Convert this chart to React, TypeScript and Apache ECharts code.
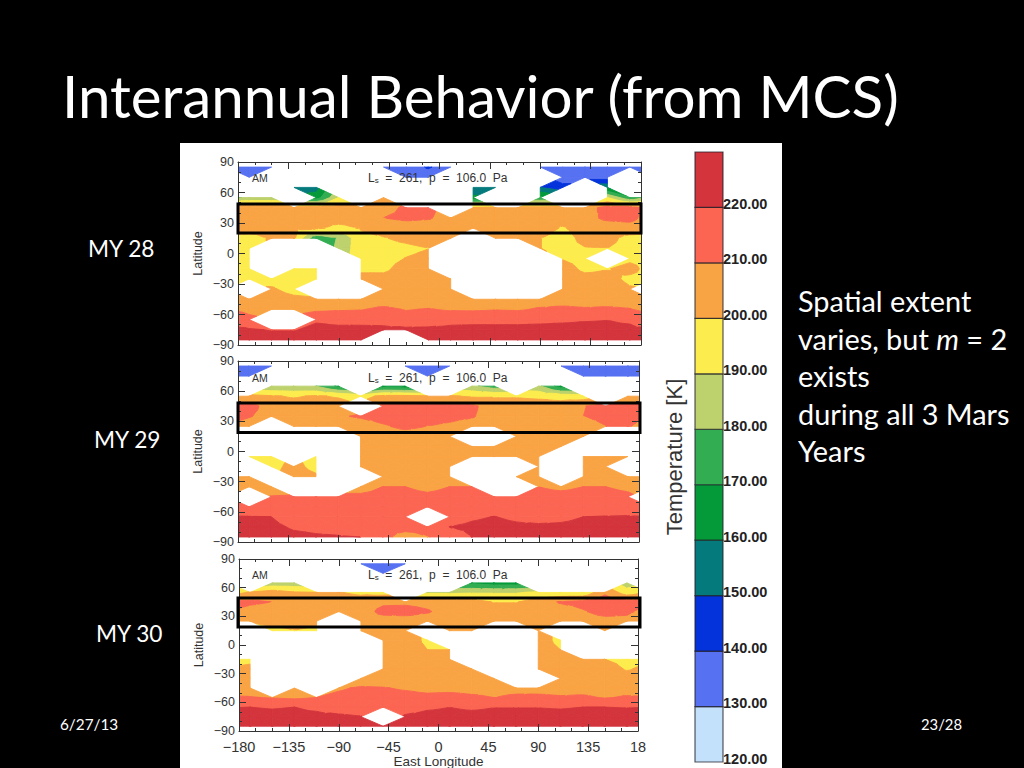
import React, { useEffect, useRef } from "react";
import * as echarts from "echarts";

const _ = null;

const titleText = "Interannual Behavior (from MCS)";
const yearLabels = ["MY 28", "MY 29", "MY 30"];
const sideLines = ["Spatial extent", "varies, but {i|m} = 2", "exists", "during all 3 Mars", "Years"];
const dateText = "6/27/13";
const pageText = "23/28";

const lons = [-170, -150, -130, -110, -90, -70, -50, -30, -10, 10, 30, 50, 70, 90, 110, 130, 150, 170];
const lats = [85, 75, 65, 55, 45, 35, 25, 15, 5, -5, -15, -25, -35, -45, -55, -65, -75, -85];

const levels = [120, 130, 140, 150, 160, 170, 180, 190, 200, 210, 220, 230];
const levelColors = ["#c3e1fa", "#5671f1", "#0433dc", "#047a7c", "#049a39", "#33ad52", "#bdd16c", "#fdec4d", "#f9a444", "#fb6552", "#d4343c"];

const my28 = [
  [135, 135, _, _, _, _, 135, 135, 141, 135, _, _, _, 135, 135, 135, 135, 135],
  [135, _, _, _, _, _, _, 135, 135, _, _, _, _, _, 135, 135, 135, _],
  [_, _, 153, 156, _, _, _, _, _, _, 153, 153, _, 150, 143, _, 158, _],
  [184, 184, _, 165, 190, _, 201, _, _, _, 162, _, _, 172, _, _, 190, 172],
  [205, 205, 204, 205, 205, 204, 206, 212, 212, _, 201, 203, 203, 203, 204, 205, 214, 214],
  [205, 205, 205, 205, 205, 205, 210, 212, 211, 206, 205, 205, 205, 205, 205, 207, 212, 213],
  [204, 203, 203, 202, 197, 201, 204, 205, 205, 205, 205, 205, 205, 205, 199, 205, 205, 206],
  [197, 201, 201, 172, 181, 197, 199.5, 202, 204, 204, _, 203, 203, 200.2, 196, 203, 203, 197],
  [197, _, _, _, 182, 197, 197, 198, 199.9, _, _, _, _, 200.2, 197, 199.5, 200, 197],
  [197, _, _, _, _, 198, 197, 200.3, 202, _, _, _, _, _, 199.5, 197, _, 198],
  [196, _, 196, 196, _, 198, 198, 204, 204, _, _, _, _, _, 204, 198, 199.5, 203],
  [197, 197, 196, 196, _, 203, 203, 205, 205, 205, _, _, _, _, 205, 203, 203, 198],
  [_, 201, 197, _, _, _, 205, 205, 205, 205, _, _, _, _, 205, 205, 205, 201],
  [204, 204, 202, 201, 205, 205, 205, 205, 206, 206, 206, 206, 206, 206, 206, 206, 206, 206],
  [207, 204, 204, 208, 209, 209.5, 212, 209.5, 210.5, 209, 208.7, 209.5, 209, 211, 212, 211, 211.5, 210.5],
  [213, _, _, 219, 217.5, 217.5, 217, 214, 215, 217.5, 218, 218, 218, 218.5, 219, 219.5, 219.8, 218.5],
  [221, 219.5, 219.5, 222, 222, 222, 222, 222, 222, 222, 222, 222, 222, 222, 222, 222, 222, 222],
  [224, 224, 224, 224, 224, 224, _, _, 224, 224, 224, 224, 224, 224, 224, 224, 224, 224],
];

const my29 = [
  [135, 135, _, _, _, _, _, 135, 135, 135, _, _, _, _, 135, 135, 135, 135],
  [135, _, _, _, _, _, _, _, 135, _, _, _, _, _, _, 135, 135, 135],
  [_, 181, 181, 180, 168, _, 165, 163, _, _, 182, 175, _, 182, 165, _, _, _],
  [203, 201, 199, 201, 199, 195, 203, 203, 201, 201, 199, 199, 199, 198, 196, 195, _, 203],
  [214, 205, 205, 205, 205, _, 212, 214, 214, 213, 212, 205, 205, 205, 205, 209.5, 214, 214],
  [211, 205, 205, 205, 209, 211, 213, 214, 214, 213, 211, 205, 205, 205, 205, 210, 213, 213],
  [204, _, 205, 205, 205, 206, 209, 212, 210, 208, 205, 205, 205, 205, 205, 205, 210, 211],
  [_, _, _, _, _, 204, 205, 206, 205, 205, _, _, 205, 205, 204, 204, _, _],
  [_, _, _, _, _, 204, 205, 205, 205, 205, 205, 205, 205, 205, 205, _, _, _],
  [195, 197, _, 197, _, 204, 205, 205, 205, 205, 205, 205, 205, 205, _, 205, 205, 205],
  [_, 198, 202, 198, _, 205, 205, 205, 205, 205, _, _, _, 205, _, 205, 205, _],
  [203, _, 203, 201, _, _, 205, 205, 205, 205, _, _, 205, 205, _, 205, 205, 205],
  [204, 205, _, _, _, 206, 210, 210, 207.5, 210, 210, _, _, 209.9, 208, 210, 210, 208],
  [_, 210.5, 211, 212, 212, 212, 213, 213, 212, 213, 213, 210.5, 210.5, 213, 213, 213, 213, 212],
  [211, 214, 215, 215, 215, 215, 215, 215, 214, 215, 215, 215, 215, 215, 215, 215, 215, 214],
  [220.5, 220, 216, 216, 215, 215, 215, 215, _, 215, 218.5, 220.3, 218, 216, 217.5, 220, 220.5, 220.8],
  [223, 222, 219, 218, 217.5, 216, 215, 215, 214, 220.2, 222, 223, 222, 222, 222, 223, 223, 223],
  [224, 224, 222, 221, 220.5, 220, 214, 204.5, 209.5, 215, 220.1, 224, 224, 224, 224, 224, 224, 224],
];

const my30 = [
  [_, _, _, _, _, 135, 135, 135, _, _, _, _, _, _, _, _, _, _],
  [_, _, _, _, _, _, 135, _, _, _, _, _, _, _, _, _, _, _],
  [_, 183, 183, _, _, _, _, _, _, _, 168, 165, 165, _, _, _, _, 184],
  [201, 205, 201, 200, 200.5, 198, 197, _, 188, 188, 189, 189, 189, 192, 192, 192, 208, 195],
  [212, 209.9, 205, 205, 205, 205, 208, 208, 207, 205, 204, 199.5, 199.5, 205, 211, 213, 216, 214],
  [206, 205, 205, 205, 205, 205, 213, 214, 211, 206, 205, 205, 205, 205, 205, 209, 214, 212],
  [201, 204, 204, 205, _, 205, 205, 205, 205, 205, 205, 204, 204, 205, 205, 205, 206, 207],
  [_, 197, 199.6, 197, _, 204, 205, 205, _, 205, 205, _, _, 205, _, _, 205, _],
  [_, _, _, _, _, _, 205, 205, 198, _, _, _, _, 205, 197, _, _, _],
  [_, _, _, _, _, _, 205, 205, 200, 200, _, _, _, 205, 200, _, _, _],
  [197, _, _, _, _, _, 205, 205, 205, 205, _, _, _, 205, 205, 205, 200, 197],
  [203, _, _, _, _, _, 205, 205, 205, 205, 204, _, _, 205, 205, 205, 205, 199],
  [204, _, _, _, _, 205, 205, 205, 205, 205, 205, 205, _, _, 205, 205, 205, 205],
  [206, _, 205, _, 209, 211, 210.5, 209, 207, 207, 207, 207, 207, 207, 207, 207, 207, 207],
  [210.5, 209.5, 208.5, 210, 212, 213, 213, 213, 212.6, 213.5, 211.5, 210, 211.7, 211.7, 210.8, 211.2, 209.5, 210.8],
  [220, 219.5, 220, 218.4, 215, 214, 212, 216.7, 219, 219.9, 219, 219.8, 219.8, 219.8, 219.5, 220, 220, 219.8],
  [222, 222, 222, 222, 222, 220.4, _, 221, 222, 222, 222, 222, 222, 222, 222, 222, 222, 222],
  [224, 224, 224, 224, 224, 224, 224, 224, 224, 224, 224, 224, 224, 224, 224, 224, 224, 224],
];

const panels = [my28, my29, my30];

type P = [number, number, number];

function clipAt(poly: P[], level: number, above: boolean): P[] {
  const out: P[] = [];
  const inside = (p: P) => (above ? p[2] >= level : p[2] <= level);
  for (let i = 0; i < poly.length; i++) {
    const a = poly[i];
    const b = poly[(i + 1) % poly.length];
    if (inside(a)) out.push(a);
    if (inside(a) !== inside(b)) {
      const f = (level - a[2]) / (b[2] - a[2]);
      out.push([a[0] + (b[0] - a[0]) * f, a[1] + (b[1] - a[1]) * f, level]);
    }
  }
  return out;
}

function cellTriangles(a: P | null, b: P | null, c: P | null, d: P | null): P[][] {
  const valid = [a, b, c, d].filter(Boolean) as P[];
  if (valid.length < 3) return [];
  if (valid.length === 3) return [valid];
  const m: P = [
    (a![0] + b![0] + c![0] + d![0]) / 4,
    (a![1] + b![1] + c![1] + d![1]) / 4,
    (a![2] + b![2] + c![2] + d![2]) / 4,
  ];
  return [
    [a!, b!, m],
    [b!, c!, m],
    [c!, d!, m],
    [d!, a!, m],
  ];
}

function makeRenderItem(rows: (number | null)[][]) {
  const lonsX = [-190, ...lons, 190];
  const node = (r: number, c: number): P | null => {
    const v = rows[r][(c + 17) % 18];
    return v === null ? null : [lonsX[c], lats[r], v];
  };
  return (params: any, api: any) => {
    const r = api.value(0);
    const c = api.value(1);
    const tris = cellTriangles(node(r, c), node(r, c + 1), node(r + 1, c + 1), node(r + 1, c));
    const children: any[] = [];
    for (const tri of tris) {
      for (let k = 0; k < levelColors.length; k++) {
        let poly = clipAt(tri, levels[k], true);
        if (poly.length >= 3) poly = clipAt(poly, levels[k + 1], false);
        if (poly.length < 3) continue;
        children.push({
          type: "polygon",
          shape: { points: poly.map((p) => api.coord([p[0], p[1]])) },
          style: { fill: levelColors[k], stroke: levelColors[k], lineWidth: 0.9 },
        });
      }
    }
    return { type: "group", children };
  };
}

const panelBoxes = [
  { left: 238, width: 403, top: 162, height: 183 },
  { left: 238, width: 401, top: 361, height: 181 },
  { left: 239, width: 399, top: 559, height: 172 },
];

const latTicksFormatter = (v: number) => String(v).replace("-", "\u2212");
const lonFormatter = (v: number) => (v === 180 ? "18" : String(v).replace("-", "\u2212"));

const INK = "#333333";
const FONT = "'Liberation Sans'";
const SLIDE = "Lato";

function buildOption() {
  const grid: any[] = panelBoxes.map((b) => ({ ...b, outerBoundsMode: "none" }));
  grid.push({ left: 695, width: 28, top: 152, height: 610, outerBoundsMode: "none" });
  const xAxis: any[] = [];
  const yAxis: any[] = [];
  const series: any[] = [];
  const line = { onZero: false, lineStyle: { color: INK, width: 1 } };
  panelBoxes.forEach((_b, i) => {
    const common = {
      type: "value",
      gridIndex: i,
      z: 5,
      splitLine: { show: false },
      axisLine: line,
      axisTick: { show: true, inside: true, length: 7, lineStyle: { color: INK } },
      minorTick: { show: true, splitNumber: 3, length: 3, lineStyle: { color: INK } },
    };
    const xc = { ...common, min: -180, max: 180, interval: 45 };
    const yc = { ...common, min: -90, max: 90, interval: 30 };
    xAxis.push({
      ...xc,
      position: "bottom",
      axisLabel:
        i === 2
          ? { show: true, formatter: lonFormatter, color: INK, fontFamily: FONT, fontSize: 14.5, margin: 8, hideOverlap: false }
          : { show: false },
      ...(i === 2
        ? {
            name: "East Longitude",
            nameLocation: "middle",
            nameGap: 21,
            nameTextStyle: { color: INK, fontFamily: FONT, fontSize: 13.5 },
          }
        : {}),
    });
    xAxis.push({ ...xc, position: "top", axisLabel: { show: false } });
    yAxis.push({
      ...yc,
      position: "left",
      axisLabel: { show: true, formatter: latTicksFormatter, color: INK, fontFamily: FONT, fontSize: 12.5, margin: 4 },
      name: "Latitude",
      nameLocation: "middle",
      nameRotate: 90,
      nameGap: 34,
      nameTextStyle: { color: INK, fontFamily: FONT, fontSize: 12.5 },
    });
    yAxis.push({ ...yc, position: "right", axisLabel: { show: false } });
    const cells: number[][] = [];
    for (let r = 0; r < lats.length - 1; r++) for (let c = 0; c < lons.length + 1; c++) cells.push([r, c]);
    series.push({
      type: "custom",
      xAxisIndex: i * 2,
      yAxisIndex: i * 2,
      clip: true,
      silent: true,
      z: 2,
      encode: { x: [], y: [] },
      data: cells,
      renderItem: makeRenderItem(panels[i]),
    });
  });
  // colour bar
  xAxis.push({ type: "value", gridIndex: 3, min: 0, max: 1, show: false });
  yAxis.push({
    type: "value",
    gridIndex: 3,
    min: 120,
    max: 230,
    interval: 10,
    position: "right",
    z: 5,
    splitLine: { show: false },
    axisLine: { show: false },
    axisTick: { show: false },
    axisLabel: {
      show: true,
      margin: 0,
      color: "#222222",
      fontFamily: FONT,
      fontWeight: "bold",
      fontSize: 14.5,
      verticalAlign: "bottom",
      lineHeight: 7,
      formatter: (v: number) => (v === 230 ? "" : v.toFixed(2)),
    },
  });
  yAxis.push({
    type: "value",
    gridIndex: 3,
    min: 120,
    max: 230,
    interval: 10,
    position: "left",
    splitLine: { show: false },
    axisLine: { show: false },
    axisTick: { show: false },
    axisLabel: { show: false },
    name: "Temperature [K]",
    nameLocation: "middle",
    nameRotate: 90,
    nameGap: 10,
    nameTextStyle: { color: "#333333", fontFamily: FONT, fontSize: 22 },
  });
  series.push({
    type: "custom",
    xAxisIndex: 6,
    yAxisIndex: 6,
    silent: true,
    z: 2,
    encode: { x: [], y: [] },
    data: levelColors.map((_c, k) => [k]),
    renderItem: (params: any, api: any) => {
      const k = api.value(0);
      const p0 = api.coord([0, levels[k + 1]]);
      const p1 = api.coord([1, levels[k]]);
      return {
        type: "rect",
        shape: { x: p0[0], y: p0[1], width: p1[0] - p0[0], height: p1[1] - p0[1] },
        style: { fill: levelColors[k], stroke: "rgba(30,30,40,0.75)", lineWidth: 1.2 },
      };
    },
  });

  const txt = (text: string, x: number, y: number, font: string, fill: string, extra: any = {}) => ({
    type: "text",
    z: 60,
    style: { text, x, y, font, fill, verticalAlign: "middle", align: "left", ...extra },
  });
  const small = `10.5px ${FONT}`;
  const graphicEls: any[] = [
    { type: "rect", z: -1, shape: { x: 180, y: 143, width: 602, height: 625 }, style: { fill: "#ffffff" } },
    txt(titleText, 62, 95, `58.3px ${SLIDE}`, "#ffffff"),
    txt(yearLabels[0], 88, 248, `22.7px ${SLIDE}`, "#ffffff"),
    txt(yearLabels[1], 94, 439, `22.7px ${SLIDE}`, "#ffffff"),
    txt(yearLabels[2], 96, 633, `22.7px ${SLIDE}`, "#ffffff"),
    txt(dateText, 60, 724, `15.3px ${SLIDE}`, "#ffffff"),
    txt(pageText, 921, 724, `14.8px ${SLIDE}`, "#ffffff"),
  ];
  const sideY = [300, 338, 375, 413, 450];
  sideLines.forEach((s, i) =>
    graphicEls.push(
      txt(s, 798, sideY[i], `28.9px ${SLIDE}`, "#ffffff", {
        rich: { i: { font: `italic 28.9px ${SLIDE}`, fill: "#ffffff" } },
      })
    )
  );
  const noteY = [178, 378, 575];
  noteY.forEach((y) => {
    graphicEls.push(txt("AM", 252, y, small, INK));
    graphicEls.push(
      txt("L{s|s}\u00a0\u00a0=\u00a0\u00a0261,\u00a0\u00a0p\u00a0\u00a0=\u00a0\u00a0106.0\u00a0\u00a0Pa", 368, y, `12px ${FONT}`, INK, {
        rich: { s: { font: `8px ${FONT}`, fill: INK, padding: [5, 0, 0, 0] } },
      })
    );
  });
  const boxes = [
    [238, 204, 403, 29],
    [238, 403, 402, 29.5],
    [238, 598, 402, 29],
  ];
  boxes.forEach((b) =>
    graphicEls.push({
      type: "rect",
      z: 60,
      shape: { x: b[0], y: b[1], width: b[2], height: b[3] },
      style: { fill: "none", stroke: "#000000", lineWidth: 3 },
    })
  );

  return {
    animation: false,
    backgroundColor: "#000000",
    grid,
    xAxis,
    yAxis,
    series,
    graphic: { elements: graphicEls },
  };
}

export default function App() {
  const ref = useRef<HTMLDivElement>(null);
  useEffect(() => {
    document.body.style.margin = "0";
    document.body.style.background = "#000";
    const chart = echarts.init(ref.current!, undefined, { renderer: "svg" });
    chart.setOption(buildOption() as any);
    return () => chart.dispose();
  }, []);
  return <div ref={ref} style={{ width: 1024, height: 768, overflow: "hidden" }} />;
}
